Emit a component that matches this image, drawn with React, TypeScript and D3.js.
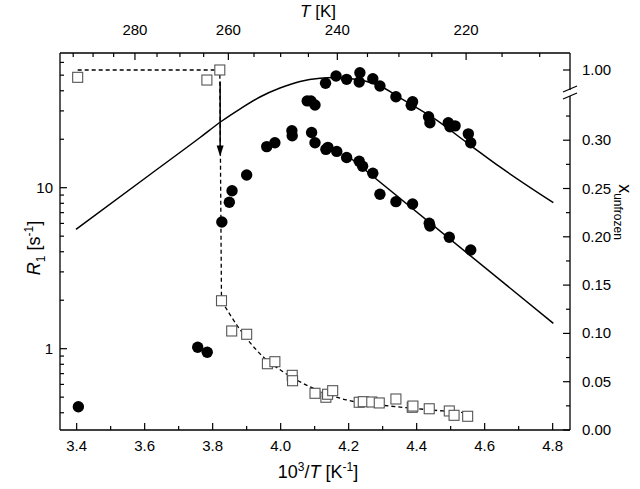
import * as React from 'react';
import * as d3 from 'd3';

// 10^3/T axis ticks, T axis ticks
const xMajor = [3.4, 3.6, 3.8, 4.0, 4.2, 4.4, 4.6, 4.8];
const xMinor = [3.5, 3.7, 3.9, 4.1, 4.3, 4.5, 4.7];
const tMajor = [280, 260, 240, 220];
const tMinor = [295, 290, 285, 275, 270, 265, 255, 250, 245, 235, 230, 225, 215, 210];
const rMajor = [1, 10];
const rMinor = [0.4, 0.5, 0.6, 0.7, 0.8, 0.9, 2, 3, 4, 5, 6, 7, 8, 9, 20, 30, 40, 50, 60];
const xuMajor = [0, 0.05, 0.1, 0.15, 0.2, 0.25, 0.3, 1.0];
const xuMinor = [0.025, 0.075, 0.125, 0.175, 0.225, 0.275, 0.325];

// R1 [s^-1] vs 10^3/T, filled circles
const r1Fast: [number, number][] = [
  [4.078, 34.6], [4.089, 34.6], [4.101, 32.6], [4.132, 44.5], [4.163, 49.4],
  [4.194, 47.1], [4.233, 51.8], [4.231, 45.3], [4.271, 47.5], [4.292, 42.8],
  [4.339, 36.7], [4.388, 34.2], [4.384, 32.5], [4.435, 27.6], [4.439, 25.3],
  [4.493, 25.3], [4.498, 23.9], [4.513, 24.2], [4.552, 21.6], [4.559, 19.0],
];
const r1Slow: [number, number][] = [
  [3.405, 0.436], [3.756, 1.02], [3.784, 0.95], [3.827, 6.12], [3.849, 8.12],
  [3.857, 9.58], [3.9, 12.0], [3.959, 18.0], [3.983, 19.0], [4.033, 22.6],
  [4.034, 21.0], [4.091, 22.0], [4.101, 19.0], [4.133, 17.3], [4.139, 17.8],
  [4.165, 16.8], [4.194, 15.4], [4.231, 14.6], [4.241, 13.6], [4.271, 12.3],
  [4.292, 9.1], [4.339, 8.19], [4.388, 7.92], [4.437, 6.01], [4.439, 5.78],
  [4.496, 4.92], [4.559, 4.1],
];
// x_unfrozen vs 10^3/T, open squares
const xUnfrozen: [number, number][] = [
  [3.403, 0.9924], [3.783, 0.9896], [3.821, 1.0], [3.826, 0.1338], [3.856, 0.1025],
  [3.9, 0.0991], [3.961, 0.0686], [3.983, 0.0707], [4.034, 0.0566], [4.035, 0.051],
  [4.101, 0.038], [4.133, 0.0339], [4.138, 0.037], [4.153, 0.0407], [4.231, 0.0287],
  [4.243, 0.0293], [4.268, 0.029], [4.29, 0.028], [4.339, 0.0321], [4.387, 0.0235],
  [4.389, 0.0248], [4.437, 0.022], [4.496, 0.0197], [4.51, 0.0152], [4.55, 0.0142],
];
// fit lines
const fitFast: [number, number][] = [
  [3.398, 5.51], [3.616, 12.08], [3.763, 20.5], [3.827, 25.96], [3.88, 30.8],
  [3.939, 36.6], [3.998, 41.6], [4.057, 45.7], [4.116, 47.9], [4.16, 48.4],
  [4.204, 47.7], [4.248, 46.0], [4.293, 42.8], [4.351, 36.1], [4.449, 27.1],
  [4.557, 18.4], [4.645, 13.45], [4.802, 8.07],
];
const fitSlow: [number, number][] = [[4.189, 16.3], [4.802, 1.438]];
const fitUnfrozenStep: [number, number][] = [[3.403, 1.0], [3.821, 1.0], [3.826, 0.1338]];
const fitUnfrozen: [number, number][] = [
  [3.826, 0.1338], [3.871, 0.1087], [3.948, 0.0759], [4.007, 0.0603], [4.086, 0.0448],
  [4.194, 0.0311], [4.292, 0.0259], [4.389, 0.0225], [4.477, 0.0197], [4.566, 0.0173],
];
const arrowLine: [number, number][] = [[3.822, 0.988], [3.822, 0.283]];

const W = 640, H = 489;
const L = 60, R = 570, T = 53, B = 430;
const font = '"Liberation Sans", Arial, sans-serif';

const x = d3.scaleLinear().domain([3.351, 4.851]).range([L, R]);
const yR = d3.scaleLog().domain([0.3126, 68.65]).range([B, T]);
const yLow = d3.scaleLinear().domain([0, 0.35]).range([B, B - 0.35 * 966]);
const yHigh = d3.scaleLinear().domain([0.9772, 1.0176]).range([92, T]);
const yX = (v: number) => (v > 0.6 ? yHigh(v) : yLow(v));
const breakY = (yHigh(1.0) + yLow(0.325)) / 2;

export default function App() {
  const rLine = d3.line<[number, number]>().x(d => x(d[0])).y(d => yR(d[1])).curve(d3.curveMonotoneX);
  const xuLine = d3.line<[number, number]>().x(d => x(d[0])).y(d => yX(d[1]));
  const xuCurve = d3.line<[number, number]>().x(d => x(d[0])).y(d => yX(d[1])).curve(d3.curveMonotoneX);

  const ax = x(arrowLine[1][0]);
  const tipY = yX(arrowLine[1][1]);
  const maj = 7, min = 4;

  return (
    <svg width={W} height={H} style={{ position: 'absolute', left: 0, top: 0 }} fontFamily={font}>
      <rect width={W} height={H} fill="#fff" />
      {/* fits */}
      <path d={rLine(fitFast) || ''} fill="none" stroke="#000" strokeWidth={1.5} />
      <path d={rLine(fitSlow) || ''} fill="none" stroke="#000" strokeWidth={1.5} />
      <path d={xuLine(fitUnfrozenStep) || ''} fill="none" stroke="#000" strokeWidth={1.3} strokeDasharray="4,3" />
      <path d={xuCurve(fitUnfrozen) || ''} fill="none" stroke="#000" strokeWidth={1.3} strokeDasharray="4,3" />
      {/* arrow */}
      <line x1={ax} x2={ax} y1={yX(arrowLine[0][1])} y2={tipY - 8} stroke="#000" strokeWidth={1.5} />
      <path d={`M${ax - 3.5},${tipY - 11}L${ax + 3.5},${tipY - 11}L${ax},${tipY}Z`} fill="#000" />
      {/* squares */}
      {xUnfrozen.map((d, i) => (
        <rect key={'s' + i} x={x(d[0]) - 5} y={yX(d[1]) - 5} width={10} height={10}
          fill="#fff" stroke="#555" strokeWidth={1.1} />
      ))}
      {/* circles */}
      {[...r1Fast, ...r1Slow].map((d, i) => (
        <circle key={'c' + i} cx={x(d[0])} cy={yR(d[1])} r={5.7} fill="#000" />
      ))}
      {/* frame */}
      <line x1={L} x2={R} y1={T} y2={T} stroke="#000" strokeWidth={1.3} />
      <line x1={L} x2={R} y1={B} y2={B} stroke="#000" strokeWidth={1.3} />
      <line x1={L} x2={L} y1={T} y2={B} stroke="#000" strokeWidth={1.3} />
      <line x1={R} x2={R} y1={T} y2={breakY - 3} stroke="#000" strokeWidth={1.3} />
      <line x1={R} x2={R} y1={breakY + 3} y2={B} stroke="#000" strokeWidth={1.3} />
      <line x1={R - 7} x2={R + 7} y1={breakY - 1} y2={breakY - 7} stroke="#000" strokeWidth={1.2} />
      <line x1={R - 7} x2={R + 7} y1={breakY + 6} y2={breakY} stroke="#000" strokeWidth={1.2} />
      {/* bottom axis */}
      {xMajor.map(v => (
        <g key={'xb' + v}>
          <line x1={x(v)} x2={x(v)} y1={B} y2={B - maj} stroke="#000" strokeWidth={1.2} />
          <text x={x(v)} y={451} fontSize={15} textAnchor="middle">{v.toFixed(1)}</text>
        </g>
      ))}
      {xMinor.map(v => (
        <line key={'xm' + v} x1={x(v)} x2={x(v)} y1={B} y2={B - min} stroke="#000" strokeWidth={1.2} />
      ))}
      {/* top axis */}
      {tMajor.map(t => (
        <g key={'tt' + t}>
          <line x1={x(1000 / t)} x2={x(1000 / t)} y1={T} y2={T + maj} stroke="#000" strokeWidth={1.2} />
          <text x={x(1000 / t)} y={35} fontSize={15} textAnchor="middle">{t}</text>
        </g>
      ))}
      {tMinor.map(t => (
        <line key={'tm' + t} x1={x(1000 / t)} x2={x(1000 / t)} y1={T} y2={T + min} stroke="#000" strokeWidth={1.2} />
      ))}
      {/* left axis */}
      {rMajor.map(v => (
        <g key={'rl' + v}>
          <line x1={L} x2={L + maj} y1={yR(v)} y2={yR(v)} stroke="#000" strokeWidth={1.2} />
          <text x={53} y={yR(v) + 5} fontSize={15} textAnchor="end">{v}</text>
        </g>
      ))}
      {rMinor.map(v => (
        <line key={'rm' + v} x1={L} x2={L + min} y1={yR(v)} y2={yR(v)} stroke="#000" strokeWidth={1.2} />
      ))}
      {/* right axis */}
      {xuMajor.map(v => (
        <g key={'xu' + v}>
          <line x1={R} x2={R - maj} y1={yX(v)} y2={yX(v)} stroke="#000" strokeWidth={1.2} />
          <text x={582} y={yX(v) + 5} fontSize={15}>{v.toFixed(2)}</text>
        </g>
      ))}
      {xuMinor.map(v => (
        <line key={'xn' + v} x1={R} x2={R - min} y1={yX(v)} y2={yX(v)} stroke="#000" strokeWidth={1.2} />
      ))}
      {/* titles */}
      <text x={318} y={478} fontSize={18} textAnchor="middle">
        10<tspan dy={-7} fontSize={12}>3</tspan><tspan dy={7}>/</tspan><tspan fontStyle="italic">T</tspan> [K<tspan dy={-7} fontSize={12}>-1</tspan><tspan dy={7}>]</tspan>
      </text>
      <text x={318} y={17} fontSize={17} textAnchor="middle">
        <tspan fontStyle="italic">T</tspan> [K]
      </text>
      <text transform="translate(40,248) rotate(-90)" fontSize={18} textAnchor="middle">
        <tspan fontStyle="italic">R</tspan><tspan dy={5} fontSize={12}>1</tspan><tspan dy={-5}> [s</tspan><tspan dy={-7} fontSize={12}>-1</tspan><tspan dy={7}>]</tspan>
      </text>
      <text transform="translate(619,212) rotate(90)" fontSize={18} textAnchor="middle">
        x<tspan dy={5} fontSize={12}>unfrozen</tspan>
      </text>
    </svg>
  );
}
